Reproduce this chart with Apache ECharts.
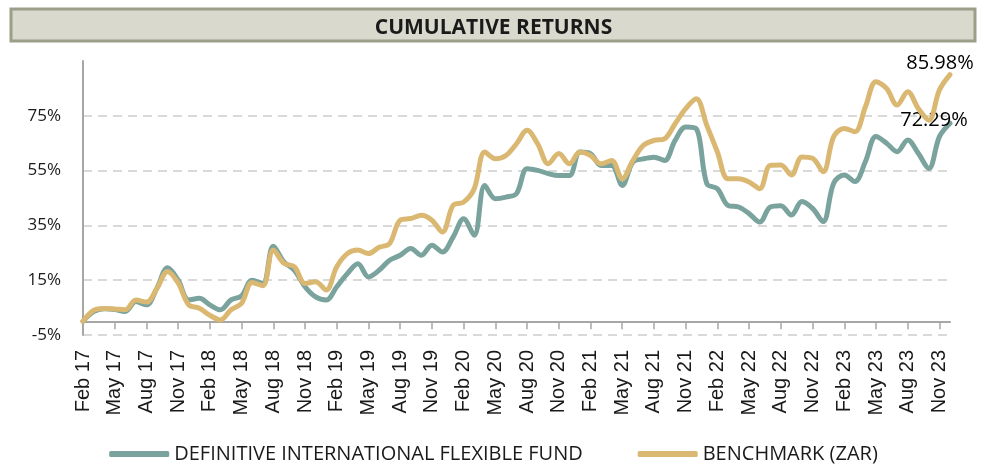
<!DOCTYPE html>
<html>
<head>
<meta charset="utf-8">
<title>Cumulative Returns</title>
<script src="https://cdn.jsdelivr.net/npm/echarts@6/dist/echarts.min.js"></script>
<style>
  html, body { margin: 0; padding: 0; background: #fff; }
  #chart { width: 987px; height: 471px; }
</style>
</head>
<body>
<div id="chart"></div>
<script>
// months Feb 17 .. Dec 23
const months = [
  "Feb 17", "Mar 17", "Apr 17", "May 17", "Jun 17", "Jul 17", "Aug 17", "Sep 17", "Oct 17", "Nov 17", "Dec 17",
  "Jan 18", "Feb 18", "Mar 18", "Apr 18", "May 18", "Jun 18", "Jul 18", "Aug 18", "Sep 18", "Oct 18", "Nov 18", "Dec 18",
  "Jan 19", "Feb 19", "Mar 19", "Apr 19", "May 19", "Jun 19", "Jul 19", "Aug 19", "Sep 19", "Oct 19", "Nov 19", "Dec 19",
  "Jan 20", "Feb 20", "Mar 20", "Apr 20", "May 20", "Jun 20", "Jul 20", "Aug 20", "Sep 20", "Oct 20", "Nov 20", "Dec 20",
  "Jan 21", "Feb 21", "Mar 21", "Apr 21", "May 21", "Jun 21", "Jul 21", "Aug 21", "Sep 21", "Oct 21", "Nov 21", "Dec 21",
  "Jan 22", "Feb 22", "Mar 22", "Apr 22", "May 22", "Jun 22", "Jul 22", "Aug 22", "Sep 22", "Oct 22", "Nov 22", "Dec 22",
  "Jan 23", "Feb 23", "Mar 23", "Apr 23", "May 23", "Jun 23", "Jul 23", "Aug 23", "Sep 23", "Oct 23", "Nov 23", "Dec 23"
];

// cumulative return, %
const fund = [
  0, 3.5, 4.6, 4.3, 3.6, 7.2, 6.0, 12.2, 19.5, 15.0, 7.8,
  8.4, 6.0, 4.2, 7.8, 9.3, 15.0, 13.8, 27.4, 21.7, 18.6, 12.6, 8.9,
  7.8, 12.6, 17.4, 21.0, 16.2, 18.6, 22.3, 24.1, 26.6, 24.1, 27.8, 25.3,
  30.7, 37.4, 31.4, 49.6, 44.7, 45.3, 46.6, 55.7, 55.1, 53.9, 53.2, 53.2,
  61.8, 61.2, 56.9, 56.9, 49.6, 58.1, 59.3, 59.9, 58.7, 66.0, 70.9, 70.3,
  50.2, 48.4, 42.3, 41.7, 39.3, 36.2, 41.7, 42.2, 38.8, 43.7, 41.2, 36.4,
  50.4, 53.4, 51.0, 58.3, 67.4, 65.0, 61.9, 66.2, 61.3, 55.8, 67.4, 72.3
];
const benchmark = [
  0, 4.0, 4.7, 4.5, 4.2, 7.8, 7.0, 12.0, 18.2, 14.0, 6.0,
  4.8, 2.2, 0.5, 4.2, 6.6, 14.2, 13.0, 26.0, 21.2, 19.9, 13.8, 14.4,
  11.4, 19.9, 24.7, 26.0, 24.7, 27.0, 28.4, 36.9, 37.5, 38.7, 36.9, 32.6,
  42.3, 43.5, 48.4, 61.8, 59.3, 60.5, 64.8, 69.7, 64.8, 57.5, 61.2, 57.5,
  61.8, 60.5, 57.5, 58.7, 52.0, 58.7, 64.2, 66.0, 66.6, 72.1, 77.6, 81.2,
  71.5, 61.8, 52.0, 52.0, 50.8, 48.4, 56.9, 57.0, 53.4, 60.0, 59.5, 54.6,
  67.4, 70.4, 69.2, 78.3, 87.4, 85.0, 78.9, 83.8, 77.7, 73.4, 84.4, 90.0
];

const seriesNames = ["DEFINITIVE INTERNATIONAL FLEXIBLE FUND", "BENCHMARK (ZAR)"];
const endLabels = ["72.29%", "85.98%"];

const teal = "#7aa39e";
const gold = "#dab872";

var myChart = echarts.init(document.getElementById("chart"), null, { renderer: "canvas" });

// label at the last point of a line
function endLabel(text, offset) {
  return {
    show: true,
    formatter: text,
    distance: 0,
    offset: offset,
    align: "center",
    verticalAlign: "middle",
    fontFamily: "'Open Sans', sans-serif",
    fontSize: 20,
    color: "#000"
  };
}

let option = {
  animation: false,
  graphic: [
    {
      type: "rect",
      shape: { x: 11, y: 9, width: 964, height: 32 },
      style: { fill: "#d9dacd", stroke: "#9c9e8a", lineWidth: 3 },
      z: 0
    }
  ],
  title: {
    text: "CUMULATIVE RETURNS",
    left: "center",
    top: 13,
    textStyle: {
      fontFamily: "'Open Sans', sans-serif",
      fontWeight: "bold",
      fontSize: 21,
      color: "#1a1a1a"
    }
  },
  legend: {
    bottom: 2,
    left: "center",
    itemWidth: 60,
    itemHeight: 6,
    itemGap: 55,
    icon: "roundRect",
    textStyle: {
      fontFamily: "'Open Sans', sans-serif",
      fontSize: 20,
      color: "#1a1a1a"
    },
    data: seriesNames
  },
  grid: {
    left: 83,
    right: 37,
    top: 61,
    bottom: 136
  },
  xAxis: {
    type: "category",
    data: months,
    boundaryGap: false,
    axisLine: { lineStyle: { color: "#a6a6a6", width: 2 } },
    axisTick: {
      length: 8,
      interval: 2,
      lineStyle: { color: "#a6a6a6", width: 1.5 }
    },
    axisLabel: {
      interval: 2,
      rotate: 90,
      margin: 15,
      fontFamily: "'Liberation Sans', Arial, sans-serif",
      fontSize: 20,
      color: "#1a1a1a"
    },
    splitLine: { show: false }
  },
  yAxis: {
    type: "value",
    min: -5,
    max: 95,
    interval: 20,
    axisLine: { show: true, lineStyle: { color: "#a6a6a6", width: 2 } },
    axisTick: { show: false },
    axisLabel: {
      margin: 22,
      showMaxLabel: false,
      formatter: "{value}%",
      fontFamily: "'Open Sans', sans-serif",
      fontSize: 17,
      color: "#1a1a1a"
    },
    splitLine: {
      showMaxLine: false,
      lineStyle: { color: "#d9d9d9", width: 2, type: [9, 6] }
    }
  },
  series: [
    {
      name: seriesNames[0],
      type: "line",
      data: fund,
      smooth: 0.35,
      showSymbol: false,
      color: teal,
      lineStyle: { width: 5, color: teal, cap: "round" },
      endLabel: endLabel(endLabels[0], [-16, -3]),
      z: 3
    },
    {
      name: seriesNames[1],
      type: "line",
      data: benchmark,
      smooth: 0.35,
      showSymbol: false,
      color: gold,
      lineStyle: { width: 5, color: gold, cap: "round" },
      endLabel: endLabel(endLabels[1], [-10, -11]),
      z: 4
    }
  ]
};

myChart.setOption(option);
</script>
</body>
</html>
